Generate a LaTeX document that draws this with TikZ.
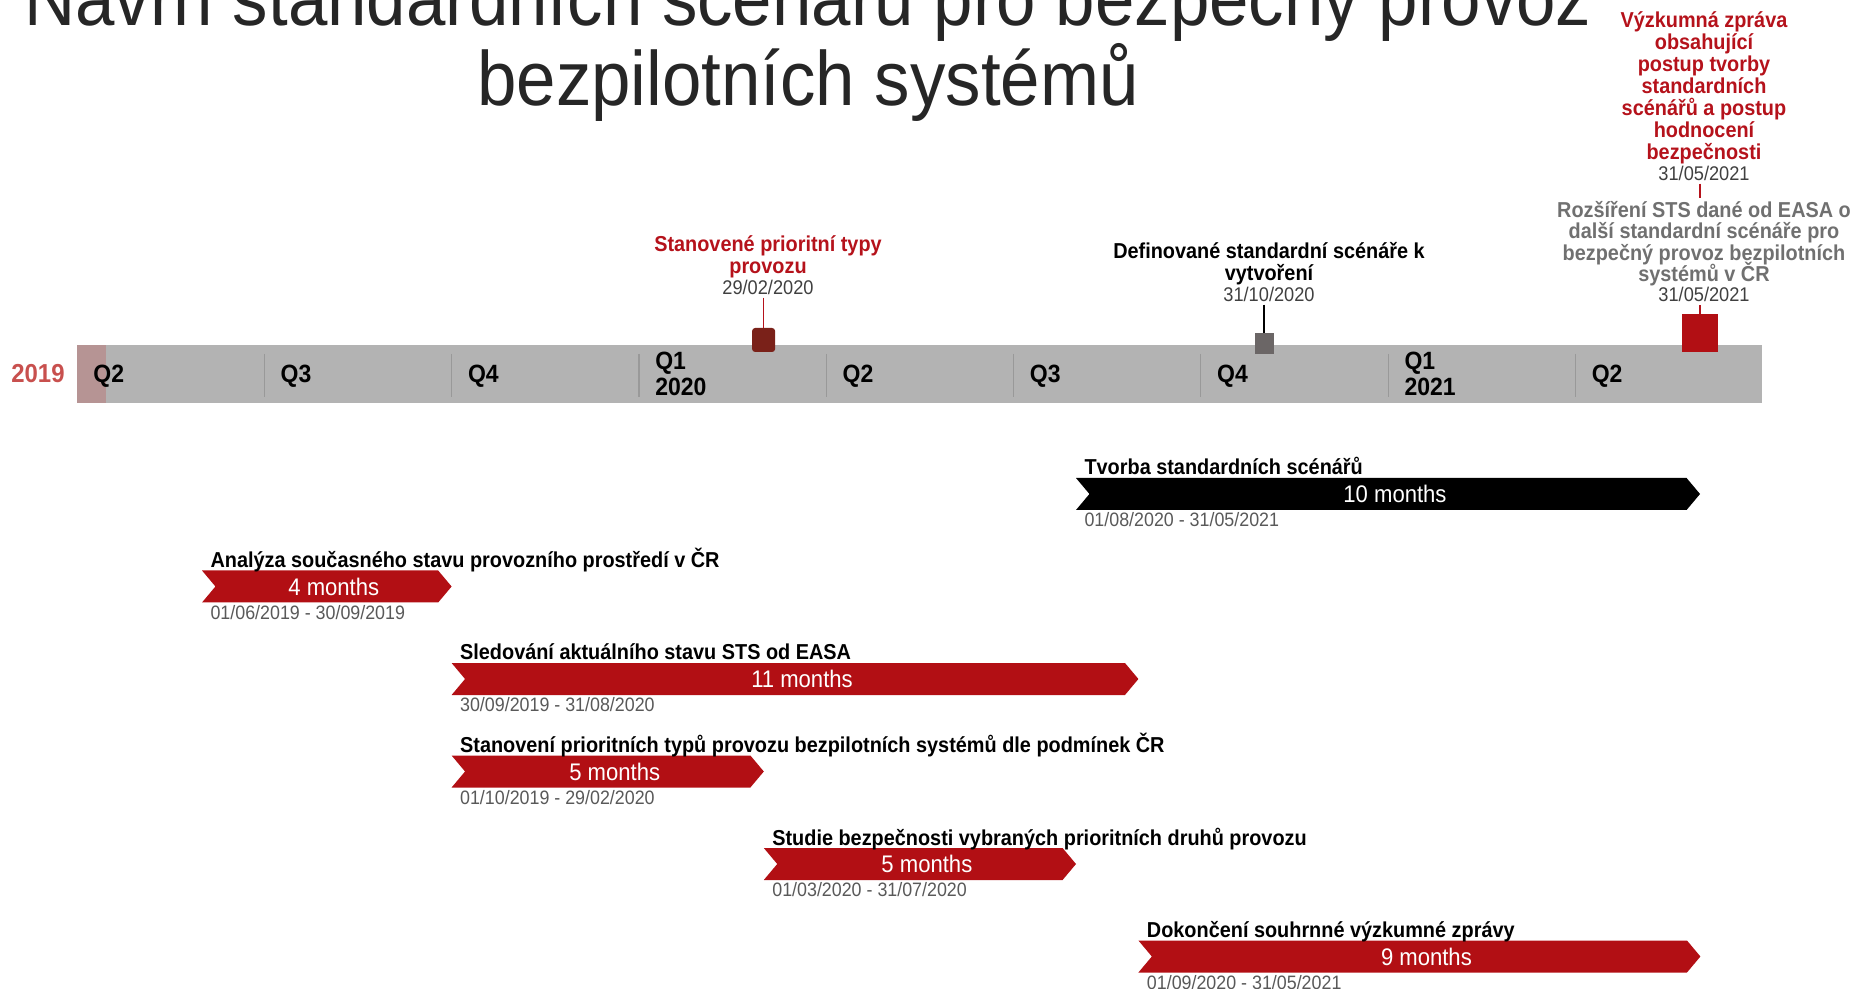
\documentclass[tikz,border=0pt]{standalone}
\usepackage{fontspec}
\setmainfont{Liberation Sans}[FakeStretch=0.92]
\usetikzlibrary{shapes.symbols, positioning}
\definecolor{barred}{HTML}{B20F14}
\definecolor{axisgray}{HTML}{B3B3B3}
\definecolor{tickgray}{HTML}{999999}
\definecolor{startpink}{HTML}{B69494}
\definecolor{yearred}{HTML}{C8504E}
\definecolor{msred}{HTML}{B5121B}
\definecolor{msbrown}{HTML}{7A2119}
\definecolor{msgray}{HTML}{6B6666}
\definecolor{notegray}{HTML}{707070}
\definecolor{dategray}{HTML}{595959}
\definecolor{datedark}{HTML}{404040}
\definecolor{titlegray}{HTML}{262626}

\begin{document}
\begin{tikzpicture}[x=0.5pt, y=-0.5pt,
    tick/.style = {draw=tickgray, line width=0.6pt},
    quarter/.style = {anchor=west, inner sep=0, align=left, font=\bfseries\fontsize{12.5}{13}\selectfont},
    chevron/.style = {signal, signal to=east, signal from=west, signal pointer angle=100,
        fill=barred, minimum height=16pt, inner sep=0, text=white, font=\fontsize{12}{12}\selectfont,
        execute at begin node={\hspace*{7pt}}},
    task/.style = {anchor=base west, inner sep=0, font=\bfseries\fontsize{10.8}{12}\selectfont},
    span/.style = {anchor=base west, inner sep=0, text=dategray, font=\fontsize{9.7}{10}\selectfont},
    marker/.style = {inner sep=0},
    mstext/.style = {inner sep=0, align=center, font=\bfseries\fontsize{10.8}{11}\selectfont,
        execute at begin node={\lineskiplimit=-5pt\relax}},
    msdate/.style = {inner sep=0, text=datedark, font=\fontsize{9.9}{10}\selectfont}]

    \useasboundingbox (0,0) rectangle (1854,989);

    \node[anchor=south, inner sep=0, align=center, text=titlegray, font=\fontsize{38.5}{37.5}\selectfont]
        (head) at (808,122) {Návrh standardních scénářů pro bezpečný provoz\\bezpilotních systémů};

    % time axis
    \fill[axisgray] (77,345) rectangle (1762,403);
    \fill[startpink] (77,345) rectangle (106,403);
    \foreach \i in {1,...,8}
        \draw[tick] (77+187.3*\i,354) -- (77+187.3*\i,397);
    \foreach \i/\q in {0/Q2, 1/Q3, 2/Q4, 4/Q2, 5/Q3, 6/Q4, 8/Q2}
        \node[quarter] (q\i) at (93+187.3*\i,376) {\q};
    \node[quarter] (q3) at (93+187.3*3,374) {Q1\\2020};
    \node[quarter] (q7) at (93+187.3*7,374) {Q1\\2021};
    \node[inner sep=0, text=yearred, font=\bfseries\fontsize{13}{13}\selectfont] (y2019) at (38,374) {2019};

    % milestones
    \node[marker, fill=msbrown, minimum width=11.5pt, minimum height=12pt, rounded corners=1.5pt] (sq1) at (763.6,340) {};
    \node[msdate] (d1) at (768,287) {29/02/2020};
    \node[mstext, text=msred, above=0.3pt of d1] (m1) {Stanovené prioritní typy\\provozu};
    \draw[msred, line width=0.8pt, shorten <=1.5pt] (d1.south -| sq1.north) -- (sq1.north);

    \node[marker, fill=msgray, minimum width=9.5pt, minimum height=10.5pt] (sq2) at (1264,343.5) {};
    \node[msdate] (d2) at (1269,294) {31/10/2020};
    \node[mstext, above=0.3pt of d2] (m2) {Definované standardní scénáře k\\vytvoření};
    \draw[line width=0.8pt, shorten <=1.5pt] (d2.south -| sq2.north) -- (sq2.north);

    \node[marker, fill=barred, minimum width=18pt, minimum height=19pt] (sq3) at (1700,333) {};
    \node[msdate] (d3) at (1704,294.5) {31/05/2021};
    \node[mstext, text=notegray, font=\bfseries\fontsize{10.8}{10.6}\selectfont, above=0.3pt of d3] (m3) {Rozšíření STS dané od EASA o\\další standardní scénáře pro\\bezpečný provoz bezpilotních\\systémů v ČR};
    \node[msdate] (d4) at (1704,173) {31/05/2021};
    \node[mstext, text=msred, above=0.3pt of d4] (m4) {Výzkumná zpráva\\obsahující\\postup tvorby\\standardních\\scénářů a postup\\hodnocení\\bezpečnosti};
    \draw[msred, line width=0.8pt, shorten <=1.5pt, shorten >=1.5pt] (d4.south -| sq3.north) -- (m3.north -| sq3.north);
    \draw[msred, line width=0.8pt, shorten <=1.5pt] (d3.south -| sq3.north) -- (sq3.north);

    % tasks
    \node[chevron, fill=black, minimum width=312pt] (t1) at (1388,494) {10 months};
    \node[task] (n1) at ([shift={(4.5pt,1.3pt)}]t1.north west) {Tvorba standardních scénářů};
    \node[span] (s1) at ([shift={(4.5pt,-8.1pt)}]t1.south west) {01/08/2020 - 31/05/2021};

    \node[chevron, minimum width=124.8pt] (t2) at (326.8,586.5) {4 months};
    \node[task] (n2) at ([shift={(4.5pt,1.3pt)}]t2.north west) {Analýza současného stavu provozního prostředí v ČR};
    \node[span] (s2) at ([shift={(4.5pt,-8.1pt)}]t2.south west) {01/06/2019 - 30/09/2019};

    \node[chevron, minimum width=343.4pt] (t3) at (795,679) {11 months};
    \node[task] (n3) at ([shift={(4.5pt,1.3pt)}]t3.north west) {Sledování aktuálního stavu STS od EASA};
    \node[span] (s3) at ([shift={(4.5pt,-8.1pt)}]t3.south west) {30/09/2019 - 31/08/2020};

    \node[chevron, minimum width=156.1pt] (t4) at (607.7,771.5) {5 months};
    \node[task] (n4) at ([shift={(4.5pt,1.3pt)}]t4.north west) {Stanovení prioritních typů provozu bezpilotních systémů dle podmínek ČR};
    \node[span] (s4) at ([shift={(4.5pt,-8.1pt)}]t4.south west) {01/10/2019 - 29/02/2020};

    \node[chevron, minimum width=156.1pt] (t5) at (919.9,864) {5 months};
    \node[task] (n5) at ([shift={(4.5pt,1.3pt)}]t5.north west) {Studie bezpečnosti vybraných prioritních druhů provozu};
    \node[span] (s5) at ([shift={(4.5pt,-8.1pt)}]t5.south west) {01/03/2020 - 31/07/2020};

    \node[chevron, minimum width=281pt] (t6) at (1419.4,956.5) {9 months};
    \node[task] (n6) at ([shift={(4.5pt,1.3pt)}]t6.north west) {Dokončení souhrnné výzkumné zprávy};
    \node[span] (s6) at ([shift={(4.5pt,-8.1pt)}]t6.south west) {01/09/2020 - 31/05/2021};
\end{tikzpicture}
\end{document}
